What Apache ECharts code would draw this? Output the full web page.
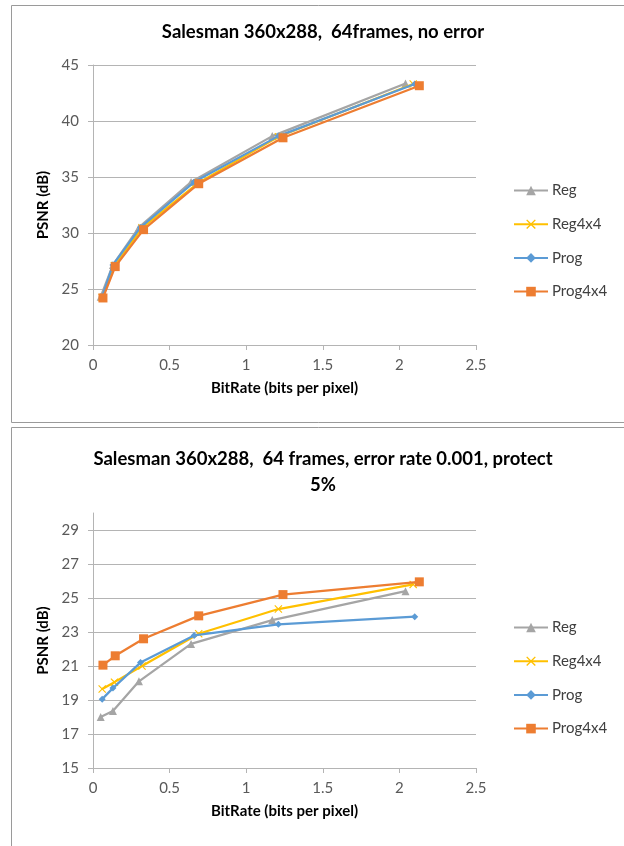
<!DOCTYPE html>
<html>
<head>
<meta charset="utf-8">
<script src="https://cdn.jsdelivr.net/npm/echarts@6/dist/echarts.min.js"></script>
<style>
  html, body { margin: 0; padding: 0; background: #fff; }
  #chart { width: 624px; height: 846px; }
</style>
</head>
<body>
<div id="chart"></div>
<script>
// 图例名称
const seriesNames = ['Reg', 'Reg4x4', 'Prog', 'Prog4x4'];

// 横坐标 bitrate (bits per pixel)
const regX = [0.05, 0.13, 0.30, 0.64, 1.17, 2.04];
const reg4X = [0.06, 0.14, 0.32, 0.69, 1.21, 2.09];
const progX = [0.06, 0.13, 0.31, 0.66, 1.21, 2.10];
const prog4X = [0.065, 0.145, 0.33, 0.69, 1.24, 2.13];

// 上图: no error
const regTop = [24.3, 27.15, 30.5, 34.55, 38.65, 43.35];
const reg4Top = [24.25, 27.1, 30.45, 34.5, 38.6, 43.3];
const progTop = [24.3, 27.15, 30.5, 34.55, 38.65, 43.3];
const prog4Top = [24.2, 27.0, 30.3, 34.4, 38.5, 43.15];

// 下图: error rate 0.001
const regBot = [18.0, 18.35, 20.1, 22.3, 23.7, 25.4];
const reg4Bot = [19.65, 20.05, 21.0, 22.9, 24.35, 25.8];
const progBot = [19.05, 19.7, 21.2, 22.8, 23.45, 23.9];
const prog4Bot = [21.05, 21.6, 22.6, 23.95, 25.2, 25.95];

// 下图的网格线刻度
const botGridTicks = [17, 19, 21, 23, 25, 27, 29];

const colors = ['#a5a5a5', '#ffc000', '#5b9bd5', '#ed7d31'];
const symbols = [
    'triangle',
    'path://M1,0L5,4L9,0L10,1L6,5L10,9L9,10L5,6L1,10L0,9L4,5L0,1Z',
    'diamond',
    'rect'
];
const symbolSizes = [8, 8, 7, 9];
const font = 'Lato, "Open Sans", sans-serif';
const axisGray = '#b4b4b4';

function pairs(xs, ys) {
    return xs.map((x, i) => [x, ys[i]]);
}

/**
 * 生成一组四条折线
 */
function makeSeries(idx, ys) {
    const xs = [regX, reg4X, progX, prog4X];
    return seriesNames.map((name, i) => ({
        name: name,
        type: 'line',
        xAxisIndex: idx,
        yAxisIndex: idx,
        data: pairs(xs[i], ys[i]),
        symbol: symbols[i],
        symbolSize: symbolSizes[i],
        showAllSymbol: true,
        lineStyle: { width: 2.25, color: colors[i] },
        itemStyle: { color: colors[i] },
        z: 3 + i,
        animation: false
    }));
}

function xAxisOf(idx) {
    return {
        gridIndex: idx,
        type: 'value',
        min: 0,
        max: 2.5,
        interval: 0.5,
        name: 'BitRate (bits per pixel)',
        nameLocation: 'middle',
        nameGap: 36,
        nameTextStyle: { fontFamily: font, fontWeight: 'bold', fontSize: 15, color: '#000' },
        axisLine: { show: true, lineStyle: { color: axisGray, width: 1 } },
        axisTick: { show: true, inside: false, length: 5, lineStyle: { color: axisGray } },
        axisLabel: { margin: 13, fontFamily: font, fontSize: 15, color: '#595959' },
        splitLine: { show: false }
    };
}

function yAxisOf(idx, min, max, interval, showSplit) {
    return {
        gridIndex: idx,
        type: 'value',
        min: min,
        max: max,
        interval: interval,
        name: 'PSNR (dB)',
        nameLocation: 'middle',
        nameRotate: 90,
        nameGap: 37,
        nameTextStyle: { fontFamily: font, fontWeight: 'bold', fontSize: 15, color: '#000' },
        axisLine: { show: true, lineStyle: { color: axisGray, width: 1 } },
        axisTick: { show: true, inside: false, length: 5, lineStyle: { color: axisGray } },
        axisLabel: { margin: 14, fontFamily: font, fontSize: 15, color: '#595959', showMaxLabel: showSplit },
        splitLine: { show: showSplit, lineStyle: { color: axisGray, width: 1 } }
    };
}

function legendOf(top) {
    return {
        orient: 'vertical',
        left: 508,
        top: top,
        itemWidth: 34,
        itemHeight: 12,
        itemGap: 18.7,
        data: seriesNames,
        textStyle: { fontFamily: font, fontSize: 15, color: '#404040', padding: [0, 0, 0, -1] }
    };
}

const chart = echarts.init(document.getElementById('chart'), null, { renderer: 'canvas' });

const topSeries = makeSeries(0, [regTop, reg4Top, progTop, prog4Top]);
const botSeries = makeSeries(1, [regBot, reg4Bot, progBot, prog4Bot]);

// 下图的网格线用 markLine 画, 顶部 30 处不画线
botSeries[0].markLine = {
    silent: true,
    symbol: 'none',
    label: { show: false },
    lineStyle: { color: axisGray, width: 1, type: 'solid' },
    data: botGridTicks.map(v => ({ yAxis: v })),
    animation: false,
    z: 1
};

chart.setOption({
    backgroundColor: '#fff',
    animation: false,
    color: colors,
    title: [{
        text: 'Salesman 360x288,  64frames, no error',
        left: 318,
        textAlign: 'center',
        top: 18,
        textStyle: { fontFamily: font, fontWeight: 'bold', fontSize: 18.5, color: '#000' }
    }, {
        text: 'Salesman 360x288,  64 frames, error rate 0.001, protect\n5%',
        left: 318,
        textAlign: 'center',
        top: 441,
        textStyle: { fontFamily: font, fontWeight: 'bold', fontSize: 18.5, color: '#000', lineHeight: 26 }
    }],
    legend: [legendOf(178), legendOf(615)],
    grid: [
        { left: 93, top: 65, width: 383, height: 280 },
        { left: 93, top: 513, width: 383, height: 255 }
    ],
    xAxis: [xAxisOf(0), xAxisOf(1)],
    yAxis: [yAxisOf(0, 20, 45, 5, true), yAxisOf(1, 15, 30, 2, false)],
    graphic: [{
        type: 'rect',
        shape: { x: 11.5, y: 5.5, width: 620, height: 417 },
        style: { fill: null, stroke: '#9a9a9a', lineWidth: 1 },
        silent: true
    }, {
        type: 'rect',
        shape: { x: 11.5, y: 427.5, width: 620, height: 425 },
        style: { fill: null, stroke: '#9a9a9a', lineWidth: 1 },
        silent: true
    }],
    series: topSeries.concat(botSeries)
});
</script>
</body>
</html>
